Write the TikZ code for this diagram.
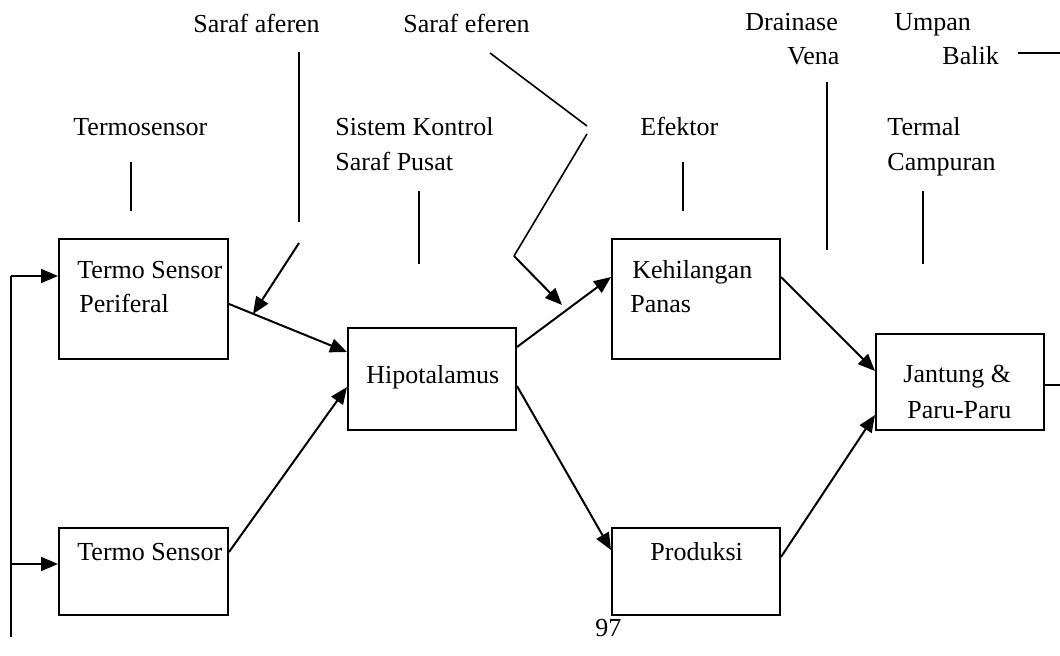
\documentclass[tikz,border=0pt]{standalone}
\usepackage{fontspec}
\setmainfont{Liberation Serif}
\usetikzlibrary{arrows.meta,calc}

\tikzset{
  box/.style={draw, line width=1pt, rectangle, inner sep=0pt, anchor=north west},
  arr/.style={line width=1pt, -{Triangle[length=8.5pt,width=7pt]}},
  wire/.style={line width=1pt},
  tick/.style={line width=0.8pt},
  txt/.style={anchor=base west, inner sep=0pt, font=\fontsize{13}{15.6}\selectfont},
}

\begin{document}
\begin{tikzpicture}[x=0.5pt, y=-0.5pt]
  \useasboundingbox (0,0) rectangle (1060,656);

  % blocks
  \node[box, minimum width=84.5pt, minimum height=60pt]   (tsp)  at (58,238)  {};
  \node[box, minimum width=84.5pt, minimum height=43.5pt] (ts)   at (58,527)  {};
  \node[box, minimum width=84pt,   minimum height=51pt]   (hip)  at (347,327) {};
  \node[box, minimum width=84pt,   minimum height=60pt]   (keh)  at (611,238) {};
  \node[box, minimum width=84pt,   minimum height=43.5pt] (prod) at (611,527) {};
  \node[box, minimum width=84pt,   minimum height=48pt]   (jan)  at (875,333) {};

  % block texts
  \node[txt] (t1a) at (77,279)  {Termo Sensor};
  \node[txt] (t1b) at (79,313)  {Periferal};
  \node[txt] (t2)  at (77,561)  {Termo Sensor};
  \node[txt] (t3)  at (366,384) {Hipotalamus};
  \node[txt] (t4a) at (632,279) {Kehilangan};
  \node[txt] (t4b) at (630,313) {Panas};
  \node[txt] (t5)  at (650,561) {Produksi};
  \node[txt] (t6a) at (903,383) {Jantung \&};
  \node[txt] (t6b) at (907,419) {Paru-Paru};

  % captions
  \node[txt] (c1)  at (73,136)  {Termosensor};
  \node[txt] (c2)  at (193,33)  {Saraf aferen};
  \node[txt] (c3)  at (403,33)  {Saraf eferen};
  \node[txt] (c4a) at (335,136) {Sistem Kontrol};
  \node[txt] (c4b) at (335,171) {Saraf Pusat};
  \node[txt] (c5)  at (640,136) {Efektor};
  \node[txt] (c6a) at (745,31)  {Drainase};
  \node[txt] (c6b) at (787,65)  {Vena};
  \node[txt] (c7a) at (894,31)  {Umpan};
  \node[txt] (c7b) at (942,65)  {Balik};
  \node[txt] (c8a) at (887,136) {Termal};
  \node[txt] (c8b) at (887,171) {Campuran};
  \node[txt] (pg)  at (595,637) {97};

  % caption leaders
  \coordinate (l1a) at (131,162); \coordinate (l1b) at (131,211);
  \coordinate (l2a) at (299,52);  \coordinate (l2b) at (299,222);
  \coordinate (l4a) at (419,191); \coordinate (l4b) at (419,264);
  \coordinate (l5a) at (683,162); \coordinate (l5b) at (683,211);
  \coordinate (l6a) at (827,82);  \coordinate (l6b) at (827,250);
  \coordinate (l8a) at (923,191); \coordinate (l8b) at (923,264);
  \coordinate (l7a) at (1018,53); \coordinate (l7b) at (1060,53);
  \draw[tick] (l1a) -- (l1b);
  \draw[tick] (l2a) -- (l2b);
  \draw[tick] (l4a) -- (l4b);
  \draw[tick] (l5a) -- (l5b);
  \draw[tick] (l6a) -- (l6b);
  \draw[tick] (l8a) -- (l8b);
  \draw[tick] (l7a) -- (l7b);

  % efferent nerve leader
  \coordinate (e1) at (490,53);
  \coordinate (e2) at (587,126);
  \coordinate (e3) at (587,134);
  \coordinate (e4) at (514,256);
  \coordinate (e5) at (562,305);
  \draw[tick] (e1) -- (e2);
  \draw[tick] (e3) -- (e4);
  \draw[arr] (e4) -- (e5);

  % afferent nerve arrow
  \coordinate (a1) at (299,243);
  \coordinate (a2) at (253,314);
  \draw[arr] (a1) -- (a2);

  % main flow
  \draw[arr] ($(tsp.north east)+(0,66)$) -- ($(hip.north west)+(0,25)$);
  \draw[arr] ($(ts.north east)+(0,25)$)  -- ($(hip.north west)+(0,60)$);
  \draw[arr] ($(hip.north east)+(0,20)$) -- ($(keh.north west)+(0,39)$);
  \draw[arr] ($(hip.north east)+(0,59)$) -- ($(prod.north west)+(0,23)$);
  \draw[arr] ($(keh.north east)+(0,39)$) -- ($(jan.north west)+(0,38)$);
  \draw[arr] ($(prod.north east)+(0,30)$) -- ($(jan.north west)+(0,82)$);

  % feedback loop
  \coordinate (fo) at (1060,385);
  \draw[wire] ($(jan.north east)+(0,52)$) -- (fo);
  \coordinate (fb0) at (11,637);
  \coordinate (fb1) at (11,276);
  \coordinate (fb2) at (11,564);
  \draw[wire] (fb0) -- (fb1);
  \draw[arr] (fb1) -- ($(tsp.north west)+(0,38)$);
  \draw[arr] (fb2) -- ($(ts.north west)+(0,37)$);
\end{tikzpicture}
\end{document}
